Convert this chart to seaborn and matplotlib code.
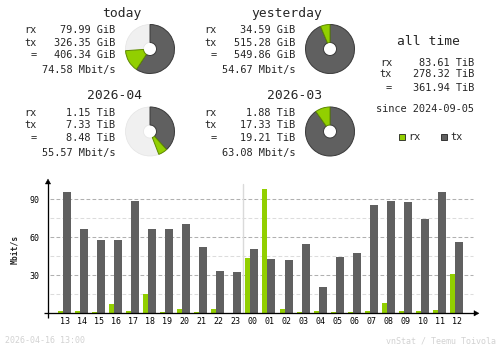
import matplotlib
matplotlib.use("Agg")
import matplotlib.pyplot as plt
from matplotlib.patches import Wedge, Rectangle, Polygon
import numpy as np
import seaborn as sns

# ---- hourly traffic (Mbit/s) ----
hours = ["13", "14", "15", "16", "17", "18", "19", "20", "21", "22", "23",
         "00", "01", "02", "03", "04", "05", "06", "07", "08", "09", "10", "11", "12"]
rx_rate = [1.8, 1.8, 1.0, 7.4, 1.8, 15.3, 1.0, 3.4, 1.0, 3.4, 0.0,
           43.7, 98.2, 3.4, 1.0, 1.8, 1.0, 1.0, 1.8, 8.2, 1.8, 1.8, 2.6, 31.1]
tx_rate = [96.0, 66.6, 57.9, 57.9, 88.9, 66.6, 66.6, 70.5, 52.4, 33.4, 32.6,
           50.8, 42.9, 42.1, 54.7, 20.8, 44.5, 47.6, 85.5, 88.7, 87.9, 74.5, 95.8, 56.3]
y_ticks = [30, 60, 90]
y_minor = [15, 45, 75]

# ---- period summaries ----
periods = ["today", "yesterday", "2026-04", "2026-03"]
rx_vals = [79.99, 34.59, 1.15, 1.88]
tx_vals = [326.35, 515.28, 7.33, 17.33]
tot_vals = [406.34, 549.86, 8.48, 19.21]
units = ["GiB", "GiB", "TiB", "TiB"]
rates = [74.58, 54.67, 55.57, 63.08]

# ---- all time ----
all_rx, all_tx, all_tot, all_unit = 83.61, 278.32, 361.94, "TiB"
since = "2024-09-05"
stamp = "2026-04-16 13:00"
credit = "vnStat / Teemu Toivola"

C_RX = "#92CF00"
C_TX = "#606060"
C_BG = "#F0F0F0"

sns.set_theme(style="white")
plt.rcParams["font.family"] = ["DejaVu Sans Mono", "DejaVu Sans"]

W, H, DPI = 500, 348, 100
fig = plt.figure(figsize=(W / DPI, H / DPI), dpi=DPI, facecolor="white")

def pt(px):
    return px * 72.0 / DPI

# overlay axes in pixel coordinates
ov = fig.add_axes([0, 0, 1, 1], zorder=5)
ov.set_xlim(0, W)
ov.set_ylim(H, 0)
ov.axis("off")
ov.patch.set_alpha(0)

F_TITLE = 9.4
F_TEXT = 7.4
F_SMALL = 6.0


def donut(cx, cy, tx_frac, rx_frac, r=24.5, hole=6.5):
    width = r - hole
    ov.add_patch(Wedge((cx, cy), r, 0, 360, width=width, facecolor=C_BG,
                       edgecolor="#E4E4E4", lw=0.5))
    a0 = -90
    a1 = a0 + 360 * tx_frac
    a2 = a1 + 360 * rx_frac
    if tx_frac > 0:
        ov.add_patch(Wedge((cx, cy), r, a0, a1, width=width, facecolor=C_TX,
                           edgecolor="#3A3A3A", lw=0.7))
    if rx_frac > 0:
        ov.add_patch(Wedge((cx, cy), r, a1, a2, width=width, facecolor=C_RX,
                           edgecolor="#5E8A00", lw=0.7))


# block layout: (x offset, y offset)
offsets = [(0, 0), (180, 0), (0, 82.5), (180, 82.5)]
pair_max = [max(tot_vals[0], tot_vals[1]), max(tot_vals[0], tot_vals[1]),
            max(tot_vals[2], tot_vals[3]), max(tot_vals[2], tot_vals[3])]

for i, name in enumerate(periods):
    dx, dy = offsets[i]
    ov.text(142 + dx, 16.5 + dy, name, ha="right", va="baseline", fontsize=F_TITLE)
    rows = [("rx", f"{rx_vals[i]:.2f} {units[i]}", 33.3),
            ("tx", f"{tx_vals[i]:.2f} {units[i]}", 45.7),
            ("=", f"{tot_vals[i]:.2f} {units[i]}", 58.3)]
    for lab, val, yb in rows:
        ov.text(37 + dx, yb + dy, lab, ha="right", va="baseline", fontsize=F_TEXT)
        ov.text(115 + dx, yb + dy, val, ha="right", va="baseline", fontsize=F_TEXT)
    ov.text(115 + dx, 73.3 + dy, f"{rates[i]:.2f} Mbit/s", ha="right",
            va="baseline", fontsize=F_TEXT)
    donut(150 + dx, 49 + dy, tx_vals[i] / pair_max[i], rx_vals[i] / pair_max[i])

# all time block
ov.text(460, 45, "all time", ha="right", va="baseline", fontsize=F_TITLE)
for lab, val, yb in [("rx", all_rx, 65.7), ("tx", all_tx, 76.7), ("=", all_tot, 91)]:
    ov.text(392, yb, lab, ha="right", va="baseline", fontsize=F_TEXT)
    ov.text(474, yb, f"{val:.2f} {all_unit}", ha="right", va="baseline", fontsize=F_TEXT)
ov.text(474, 111.5, f"since {since}", ha="right", va="baseline", fontsize=F_TEXT)

# legend
for x0, col, lab in [(399, C_RX, "rx"), (441, C_TX, "tx")]:
    ov.add_patch(Rectangle((x0, 133.5), 6, 6, facecolor=col, edgecolor="#202020", lw=0.6))
    ov.text(x0 + 9.5, 139.5, lab, ha="left", va="baseline", fontsize=F_TEXT)

# ---- hourly bar chart ----
x_left, x_right = 48, 477
y_base, y_top = 313.3, 180.3
step = 17.04
first_center = 65.0
bax = fig.add_axes([x_left / W, (H - y_base) / H, (x_right - x_left) / W,
                    (y_base - y_top) / H], zorder=2)

idx = np.arange(len(hours))
sns.barplot(x=idx + 0.117, y=tx_rate, native_scale=True, width=8 / step,
            color=C_TX, saturation=1, linewidth=0, errorbar=None, ax=bax, zorder=3)
sns.barplot(x=idx - 0.264, y=rx_rate, native_scale=True, width=5 / step,
            color=C_RX, saturation=1, linewidth=0, errorbar=None, ax=bax, zorder=3)

x0 = -(first_center - x_left) / step
bax.set_xlim(x0, x0 + (x_right - x_left) / step)
bax.set_ylim(0, (y_base - y_top) / ((313.3 - 199.3) / 90))
bax.set_facecolor("none")
for s in bax.spines.values():
    s.set_visible(False)

gx0 = 2 / (x_right - x_left)
gx1 = 425 / (x_right - x_left)
for v in y_minor:
    bax.axhline(v, xmin=gx0, xmax=gx1, color="#DCDCDC", lw=0.75,
                dashes=(pt(5), pt(3)), zorder=1)
for v in y_ticks:
    bax.axhline(v, xmin=gx0, xmax=gx1, color="#B0B0B0", lw=0.75,
                dashes=(pt(5), pt(3)), zorder=1)

# day boundary
day_start = hours.index("00")
bax.axvline(day_start - 0.54, ymin=0, ymax=0.97, color="#DADADA", lw=1.0, zorder=2)

bax.set_xticks(idx)
bax.set_xticklabels(hours)
bax.set_yticks(y_ticks)
bax.set_yticklabels([str(v) for v in y_ticks])
bax.tick_params(axis="x", length=0, pad=2.6, labelsize=F_SMALL, colors="black")
bax.tick_params(axis="y", length=0, pad=6.0, labelsize=F_SMALL, colors="black")
bax.set_xlabel("")
bax.set_ylabel("")

# axis lines with arrow heads
ov.plot([48, 48], [318, 182], color="black", lw=pt(1.3), solid_capstyle="butt")
ov.add_patch(Polygon([(45.3, 184), (50.7, 184), (48, 179)], closed=True,
                     facecolor="black", edgecolor="black", lw=0.3))
ov.plot([44, 475], [313.3, 313.3], color="black", lw=pt(1.3), solid_capstyle="butt")
ov.add_patch(Polygon([(474, 310.6), (474, 316), (479, 313.3)], closed=True,
                     facecolor="black", edgecolor="black", lw=0.3))

ov.text(15, 249, "Mbit/s", rotation=90, ha="center", va="center",
        fontsize=5.8, fontweight="bold")

# footer
ov.text(5, 343, stamp, ha="left", va="baseline", fontsize=F_SMALL, color="#D2D2D2")
ov.text(496, 343, credit, ha="right", va="baseline", fontsize=F_SMALL, color="#D2D2D2")

fig.savefig("out.png", dpi=DPI, facecolor="white")
